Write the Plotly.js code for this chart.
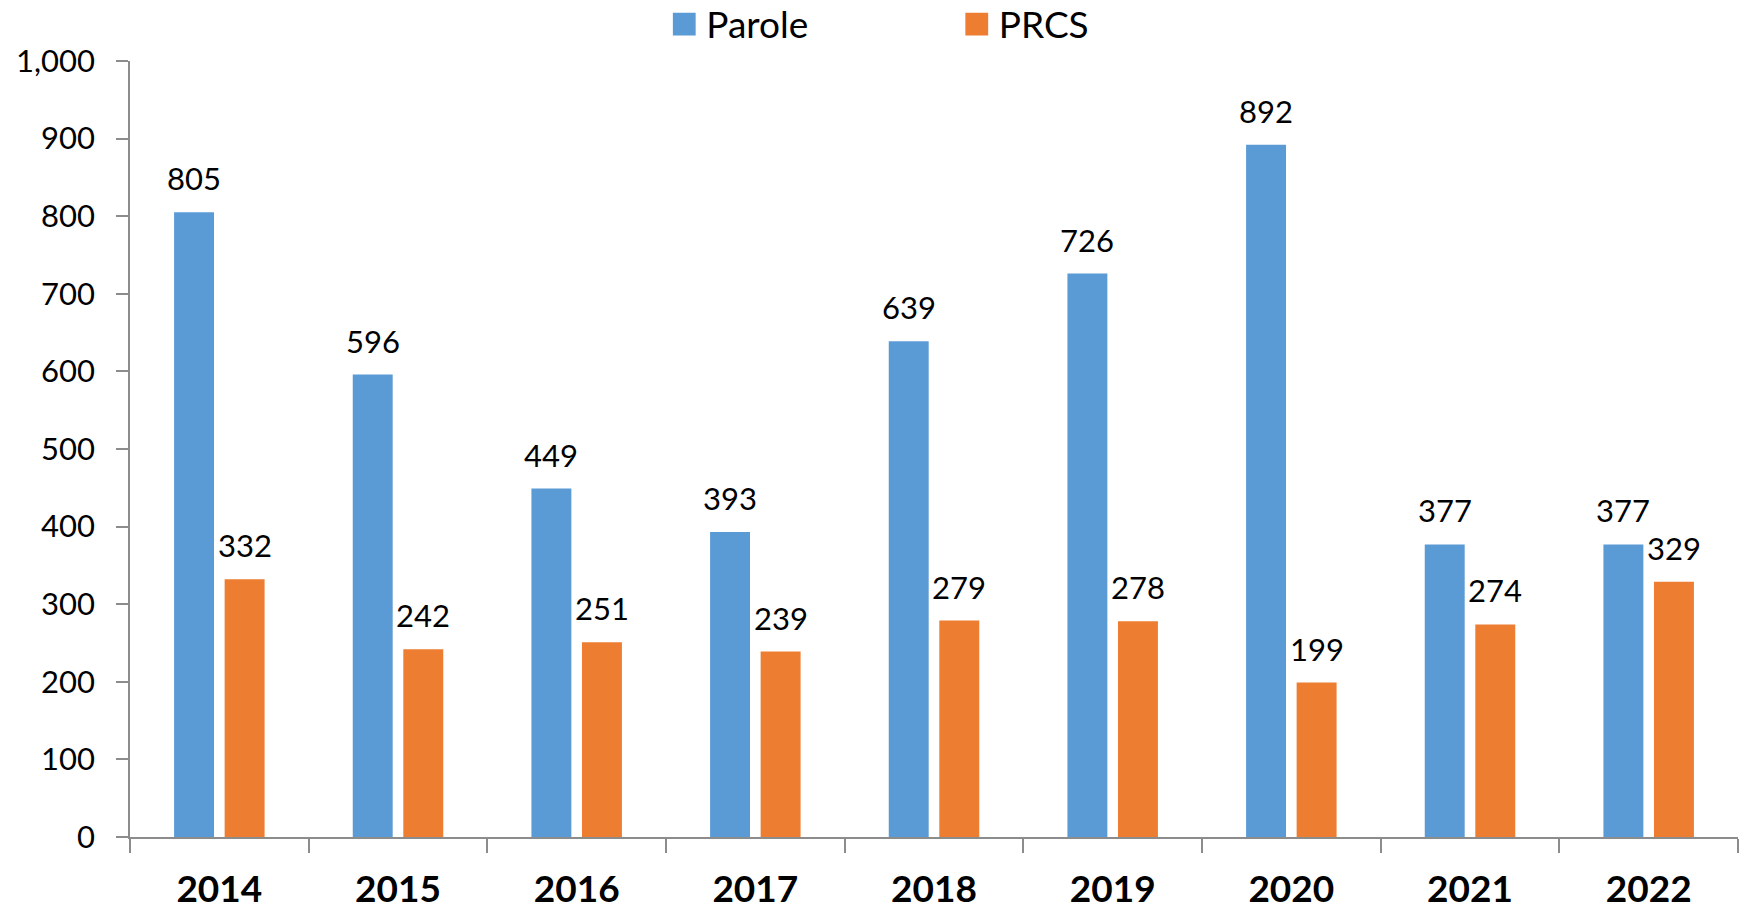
<!DOCTYPE html>
<html>
<head>
<meta charset="utf-8">
<script src="https://cdn.plot.ly/plotly-3.0.1.min.js"></script>
<style>
html, body { margin: 0; padding: 0; background: #ffffff; }
#chart { width: 1750px; height: 911px; }
</style>
</head>
<body>
<div id="chart"></div>
<script>
const years = ['2014', '2015', '2016', '2017', '2018', '2019', '2020', '2021', '2022'];
const parole = [805, 596, 449, 393, 639, 726, 892, 377, 377];
const prcs = [332, 242, 251, 239, 279, 278, 199, 274, 329];
const seriesNames = ['Parole', 'PRCS'];
const seriesColors = ['#5B9BD5', '#ED7D31'];
const yTicks = [0, 100, 200, 300, 400, 500, 600, 700, 800, 900, 1000];

const FONT = 'Lato, "Open Sans", sans-serif';
const AXIS_COLOR = '#8c8c8c';

const traces = [
  {
    type: 'bar', name: seriesNames[0], x: years, y: parole,
    marker: { color: seriesColors[0] }, hoverinfo: 'x+y+name'
  },
  {
    type: 'bar', name: seriesNames[1], x: years, y: prcs,
    marker: { color: seriesColors[1] }, hoverinfo: 'x+y+name'
  }
];

// data labels above each bar (x = category index, offset to each bar within its group)
const annotations = [];
const groupShift = 25.3;
[parole, prcs].forEach((vals, si) => {
  vals.forEach((v, i) => {
    annotations.push({
      x: i, y: v, xref: 'x', yref: 'y',
      text: String(v), showarrow: false,
      xanchor: 'center', yanchor: 'bottom',
      xshift: si === 0 ? -groupShift : groupShift, yshift: 13,
      font: { family: FONT, size: 31, color: '#000000' }
    });
  });
});

const layout = {
  width: 1750, height: 911,
  margin: { l: 130, r: 12, t: 61, b: 74, autoexpand: false },
  paper_bgcolor: '#ffffff', plot_bgcolor: '#ffffff',
  barmode: 'group', bargap: 0.434, bargroupgap: 0.21,
  showlegend: true,
  legend: {
    orientation: 'h', x: 0.3335, xanchor: 'left', xref: 'paper',
    y: 1.087, yanchor: 'top', yref: 'paper',
    font: { family: FONT, size: 37, color: '#000000' },
    entrywidth: 247.5, entrywidthmode: 'pixels',
    bgcolor: 'rgba(0,0,0,0)'
  },
  xaxis: {
    type: 'category', tickson: 'boundaries', range: [-0.5, years.length - 0.5],
    showline: true, linecolor: AXIS_COLOR, linewidth: 1.5,
    ticks: 'outside', ticklen: 14, tickwidth: 1.5, tickcolor: AXIS_COLOR,
    showgrid: false, zeroline: false, tickangle: 0,
    ticklabelstandoff: 19,
    tickfont: { family: FONT, size: 37, color: '#000000', weight: 'bold' }
  },
  yaxis: {
    range: [0, 1000], tickvals: yTicks, tickformat: ',d',
    showline: true, linecolor: AXIS_COLOR, linewidth: 1.5,
    ticks: 'outside', ticklen: 12, tickwidth: 1.5, tickcolor: AXIS_COLOR,
    showgrid: false, zeroline: false,
    ticklabelstandoff: 15,
    tickfont: { family: FONT, size: 31, color: '#000000' }
  },
  annotations: annotations
};

Plotly.newPlot('chart', traces, layout, { displayModeBar: false, responsive: false }).then(() => {
  document.querySelectorAll('.legend .legendpoints path').forEach(p => {
    p.setAttribute('transform', 'translate(18,0) scale(1.9)');
  });
});
</script>
</body>
</html>
